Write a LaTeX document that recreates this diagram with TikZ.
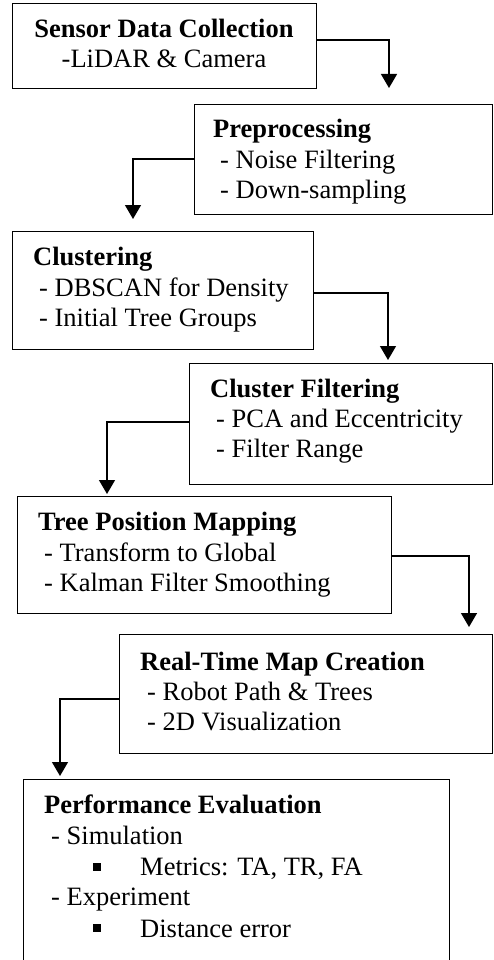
\documentclass[tikz,border=0pt]{standalone}
\usepackage{fontspec}
\setmainfont{Liberation Serif}
\usetikzlibrary{arrows.meta,calc}
\begin{document}
\begin{tikzpicture}[x=1pt,y=-1pt,
  box/.style={draw=black, line width=1.1pt, rectangle, inner sep=0pt, anchor=north west},
  ttl/.style={inner sep=0pt, anchor=base west, font=\fontsize{26.5}{30}\selectfont\bfseries},
  itm/.style={inner sep=0pt, anchor=base west, font=\fontsize{26.5}{30}\selectfont},
  flow/.style={draw=black, line width=1.4pt, -{Triangle[width=16pt,length=14pt]}},
  sq/.style={fill=black, inner sep=0pt, minimum size=7.5pt, anchor=south west}]
\clip (0,0) rectangle (494,960);

% process boxes
\node[box, minimum width=304pt, minimum height=85pt]  (b1) at (12,3)   {};
\node[box, minimum width=298pt, minimum height=110pt] (b2) at (194,104) {};
\node[box, minimum width=301pt, minimum height=118pt] (b3) at (12,231)  {};
\node[box, minimum width=303pt, minimum height=121pt] (b4) at (189,363) {};
\node[box, minimum width=374pt, minimum height=117pt] (b5) at (17,496)  {};
\node[box, minimum width=373pt, minimum height=119pt] (b6) at (119,634) {};
\node[box, minimum width=426pt, minimum height=240pt] (b7) at (23,779)  {};

% box texts
\node[ttl, anchor=base] (t1a) at (164,38) {Sensor Data Collection};
\node[itm, anchor=base] (t1b) at (164,68) {-LiDAR \& Camera};

\node[ttl] (t2a) at (213,138) {Preprocessing};
\node[itm] (t2b) at (220,168) {- Noise Filtering};
\node[itm] (t2c) at (220,198) {- Down-sampling};

\node[ttl] (t3a) at (33,265) {Clustering};
\node[itm] (t3b) at (39,296) {- DBSCAN for Density};
\node[itm] (t3c) at (39,326) {- Initial Tree Groups};

\node[ttl] (t4a) at (210,397) {Cluster Filtering};
\node[itm] (t4b) at (216,427) {- PCA and Eccentricity};
\node[itm] (t4c) at (216,457) {- Filter Range};

\node[ttl] (t5a) at (38,530) {Tree Position Mapping};
\node[itm] (t5b) at (44,561) {- Transform to Global};
\node[itm] (t5c) at (44,591) {- Kalman Filter Smoothing};

\node[ttl] (t6a) at (140,670) {Real-Time Map Creation};
\node[itm] (t6b) at (147,700) {- Robot Path \& Trees};
\node[itm] (t6c) at (147,730) {- 2D Visualization};

\node[ttl] (t7a) at (44,813) {Performance Evaluation};
\node[itm] (t7b) at (51,844) {- Simulation};
\node[sq]  (q1)  at (93,871) {};
\node[itm] (t7c) at (140,875) {Metrics: TA, TR, FA};
\node[itm] (t7d) at (51,905) {- Experiment};
\node[sq]  (q2)  at (93,932) {};
\node[itm] (t7e) at (140,937) {Distance error};

% connectors
\draw[flow, shorten >=16pt] ($(b1.north east)+(0,37)$) -| ($(b2.north west)+(195,0)$);
\draw[flow, shorten >=12pt] ($(b2.north west)+(0,55)$) -| ($(b3.north west)+(121,0)$);
\draw[flow, shorten >=3pt]  ($(b3.north east)+(0,62)$) -| ($(b4.north west)+(199,0)$);
\draw[flow, shorten >=2pt]  ($(b4.north west)+(0,59)$) -| ($(b5.north west)+(90,0)$);
\draw[flow, shorten >=7pt]  ($(b5.north east)+(0,60)$) -| ($(b6.north west)+(350,0)$);
\draw[flow, shorten >=3pt]  ($(b6.north west)+(0,65)$) -| ($(b7.north west)+(37,0)$);
\end{tikzpicture}
\end{document}
